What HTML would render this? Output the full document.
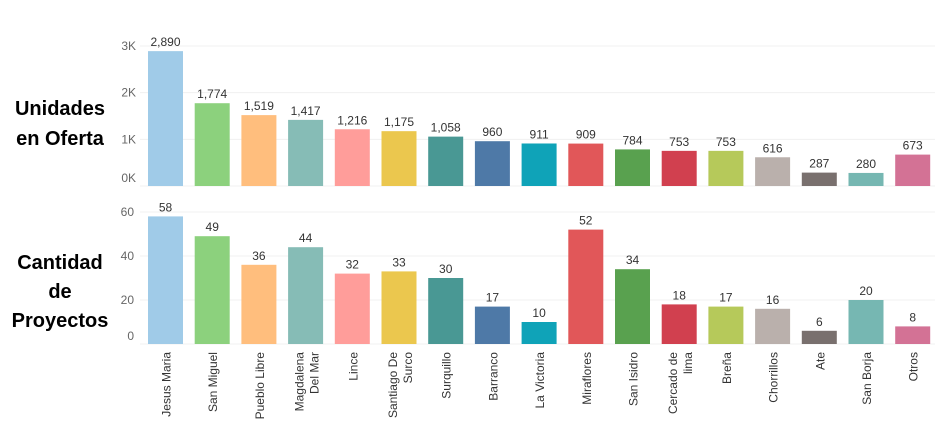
<!DOCTYPE html>
<html><head><meta charset="utf-8"><style>
body{margin:0;background:#fff;width:948px;height:423px;overflow:hidden;font-family:"Liberation Sans",sans-serif}
svg{position:absolute;left:0;top:0}
</style></head><body>
<svg id="c" width="948" height="423">
<text x="60" y="115" text-anchor="middle" font-size="20" font-weight="bold">Unidades</text>
<text x="60" y="145" text-anchor="middle" font-size="20" font-weight="bold">en Oferta</text>
<text x="60" y="269" text-anchor="middle" font-size="20" font-weight="bold">Cantidad</text>
<text x="60" y="298" text-anchor="middle" font-size="20" font-weight="bold">de</text>
<text x="60" y="327" text-anchor="middle" font-size="20" font-weight="bold">Proyectos</text>
</svg>
<script>
const categories=[["Jesus Maria"],["San Miguel"],["Pueblo Libre"],["Magdalena","Del Mar"],["Lince"],["Santiago De","Surco"],["Surquillo"],["Barranco"],["La Victoria"],["Miraflores"],["San Isidro"],["Cercado de","lima"],["Breña"],["Chorrillos"],["Ate"],["San Borja"],["Otros"]];
const unidades=[2890,1774,1519,1417,1216,1175,1058,960,911,909,784,753,753,616,287,280,673];
const proyectos=[58,49,36,44,32,33,30,17,10,52,34,18,17,16,6,20,8];
const colors=["#A0CBE8","#8CD17D","#FFBE7D","#86BCB6","#FF9D9A","#EBC74E","#499894","#4E79A7","#0FA3B8","#E15759","#59A14F","#D1404F","#B6C95A","#BAB0AC","#79706E","#76B7B2","#D37295"];
const topTicks=[0,1000,2000,3000];
const topTickLabels=["0K","1K","2K","3K"];
const botTicks=[0,20,40,60];
const svg=document.getElementById('c');
const NS="http://www.w3.org/2000/svg";
function mk(t,a,txt){const e=document.createElementNS(NS,t);for(const k in a)e.setAttribute(k,a[k]);if(txt!=null)e.textContent=txt;svg.appendChild(e);return e;}
const x0=148,pitch=46.7,bw=35;
const xPos=i=>x0+i*pitch;
const yTop=v=>186-v*140/3000;
const yBot=v=>344-v*2.2;
function fmt(v){return v.toLocaleString('en-US');}
topTicks.forEach((t,i)=>{
 const g=mk('line',{x1:140,x2:935,y1:yTop(t),y2:yTop(t),stroke:"#f0f0f0"});
 
 
 const l=mk('text',{x:136,y:yTop(t)+(t===0?-4:4),"text-anchor":"end","font-size":12,fill:"#666"},topTickLabels[i]);
 
 
});
botTicks.forEach(t=>{
 const g=mk('line',{x1:140,x2:935,y1:yBot(t),y2:yBot(t),stroke:"#f0f0f0"});
 
 
 const l=mk('text',{x:134,y:yBot(t)+(t===0?-4:4),"text-anchor":"end","font-size":12,fill:"#666"},String(t));
 
 
});
categories.forEach((c,i)=>{
 const x=xPos(i);
 const b1=mk('rect',{x:x,y:yTop(unidades[i]),width:bw,height:186-yTop(unidades[i]),fill:colors[i]});
 
 
 const v1=mk('text',{x:x+bw/2,y:yTop(unidades[i])-5,"text-anchor":"middle","font-size":12,fill:"#333"},fmt(unidades[i]));
 
 
 const b2=mk('rect',{x:x,y:yBot(proyectos[i]),width:bw,height:344-yBot(proyectos[i]),fill:colors[i]});
 
 
 const v2=mk('text',{x:x+bw/2,y:yBot(proyectos[i])-5,"text-anchor":"middle","font-size":12,fill:"#333"},String(proyectos[i]));
 
 
 const cx=x+bw/2;
 c.forEach((line,j)=>{
  const lx=c.length===1?cx+5:cx-2+j*15;
  const t=mk('text',{x:lx,y:352,"text-anchor":"end","font-size":12,fill:"#333",transform:`rotate(-90 ${lx} 352)`},line);
  
  
 });
});
</script>
</body></html>
